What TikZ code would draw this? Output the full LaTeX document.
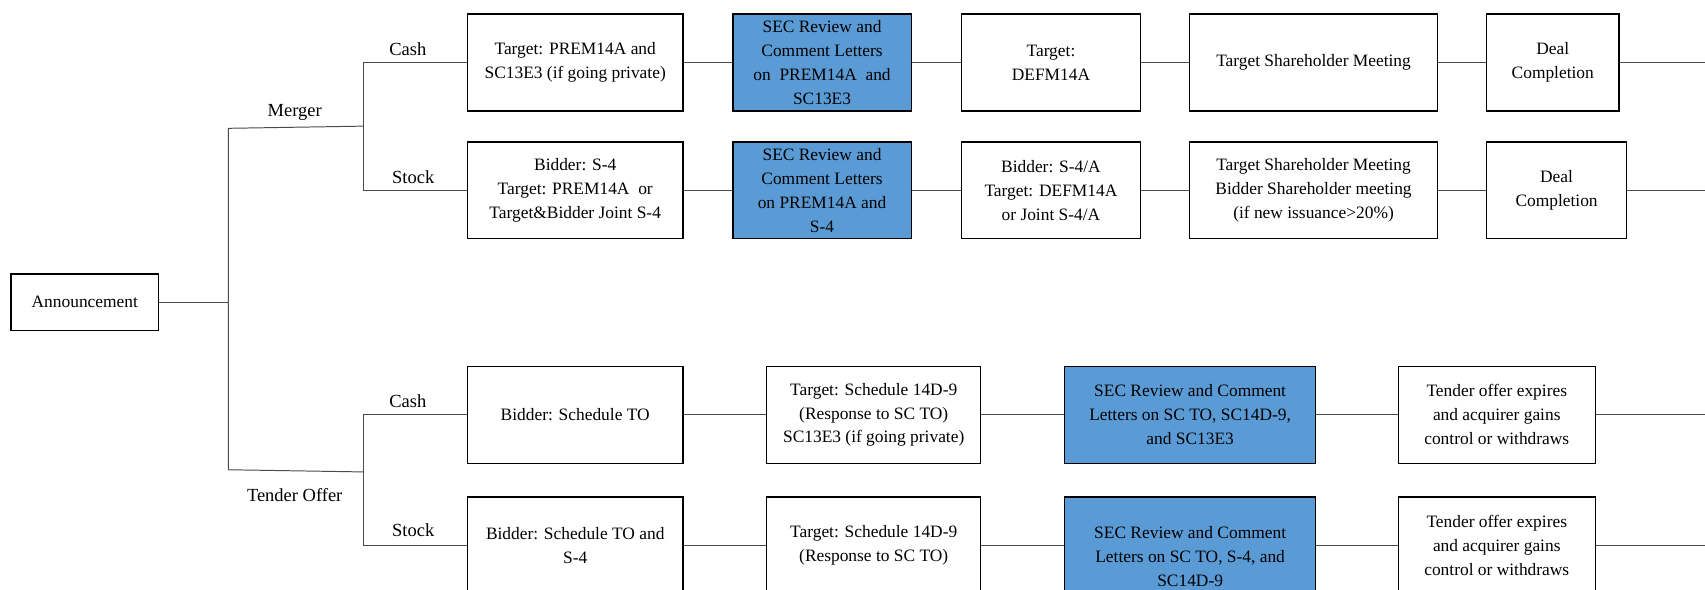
\documentclass[tikz,border=0pt]{standalone}
\usepackage{fontspec}
\setmainfont{Liberation Serif}
\definecolor{secblue}{HTML}{5B9BD5}
\definecolor{linegray}{HTML}{4A4A4A}
\tikzset{
  box/.style={draw=black, line width=1.2pt, fill=white, align=center, inner sep=0pt,
    minimum height=89pt, font=\fontsize{16}{22}\selectfont},
  sec/.style={box, fill=secblue},
  conn/.style={draw=linegray, line width=0.9pt},
  lbl/.style={font=\fontsize{17}{20}\selectfont, inner sep=0pt},
}
\begin{document}
\begin{tikzpicture}[x=1pt,y=-1pt]
\useasboundingbox (0,0) rectangle (1568,542);
\clip (0,0) rectangle (1568,542);
\fill[white] (0,0) rectangle (1568,542);

% junction coordinates
\coordinate (tA) at (210,278);
\coordinate (tM) at (210,118);
\coordinate (tT) at (210,432);
\coordinate (mJ) at (334,116);
\coordinate (tJ) at (334,434);
\coordinate (mC) at (334,57.5);
\coordinate (mS) at (334,175);
\coordinate (tC) at (334,381.5);
\coordinate (tS) at (334,501.5);
\coordinate (a6) at (1568,57.5);
\coordinate (b6) at (1568,175);
\coordinate (c5) at (1568,381.5);
\coordinate (d5) at (1568,501.5);

% connectors (drawn first, under boxes)
\draw[conn] (tA) -- (tM) -- (mJ);
\draw[conn] (tA) -- (tT) -- (tJ);
\draw[conn] (mC) -- (mS);
\draw[conn] (tC) -- (tS);

% nodes
\node[box, minimum width=136pt, minimum height=52pt] (ann) at (78,278) {Announcement};

\node[box, minimum width=198pt] (a1) at (529,57.5) {Target: PREM14A and\\SC13E3 (if going private)};
\node[sec, minimum width=164pt] (a2) at (756,57.5) {SEC Review and\\Comment Letters\\on~ PREM14A~ and\\SC13E3};
\node[box, minimum width=165pt] (a3) at (966.5,57.5) {Target:\\DEFM14A};
\node[box, minimum width=228pt] (a4) at (1208,57.5) {Target Shareholder Meeting};
\node[box, minimum width=122pt] (a5) at (1428,57.5) {Deal\\Completion};

\node[box, minimum width=198pt] (b1) at (529,175) {Bidder: S-4\\Target: PREM14A~ or\\Target\&Bidder Joint S-4};
\node[sec, minimum width=164pt] (b2) at (756,175) {SEC Review and\\Comment Letters\\on PREM14A and\\S-4};
\node[box, minimum width=165pt] (b3) at (966.5,175) {Bidder: S-4/A\\Target: DEFM14A\\or Joint S-4/A};
\node[box, minimum width=228pt] (b4) at (1208,175) {Target Shareholder Meeting\\Bidder Shareholder meeting\\(if new issuance>20\%)};
\node[box, minimum width=129pt] (b5) at (1431.5,175) {Deal\\Completion};

\node[box, minimum width=198pt] (c1) at (529,381.5) {Bidder: Schedule TO};
\node[box, minimum width=197pt] (c2) at (803.5,381.5) {Target: Schedule 14D-9\\(Response to SC TO)\\SC13E3 (if going private)};
\node[sec, minimum width=231pt] (c3) at (1094.5,381.5) {SEC Review and Comment\\Letters on SC TO, SC14D-9,\\and SC13E3};
\node[box, minimum width=181pt] (c4) at (1376.5,381.5) {Tender offer expires\\and acquirer gains\\control or withdraws};

\node[box, minimum width=198pt] (d1) at (529,501.5) {Bidder: Schedule TO and\\S-4};
\node[box, minimum width=197pt] (d2) at (803.5,501.5) {Target: Schedule 14D-9\\(Response to SC TO)};
\node[sec, minimum width=231pt, minimum height=110pt] (d3) at (1094.5,512) {SEC Review and Comment\\Letters on SC TO, S-4, and\\SC14D-9};
\node[box, minimum width=181pt] (d4) at (1376.5,501.5) {Tender offer expires\\and acquirer gains\\control or withdraws};

% connectors between nodes
\draw[conn] (ann.east) -- (tA);
\draw[conn] (mC) -- (a1.west);
\draw[conn] (mS) -- (b1.west);
\draw[conn] (tC) -- (c1.west);
\draw[conn] (tS) -- (d1.west);
\draw[conn] (a1) -- (a2);
\draw[conn] (a2) -- (a3);
\draw[conn] (a3) -- (a4);
\draw[conn] (a4) -- (a5);
\draw[conn] (a5.east) -- (a6);
\draw[conn] (b1) -- (b2);
\draw[conn] (b2) -- (b3);
\draw[conn] (b3) -- (b4);
\draw[conn] (b4) -- (b5);
\draw[conn] (b5.east) -- (b6);
\draw[conn] (c1) -- (c2);
\draw[conn] (c2) -- (c3);
\draw[conn] (c3) -- (c4);
\draw[conn] (c4.east) -- (c5);
\draw[conn] (d1) -- (d2);
\draw[conn] (d2.east) -- (d2.east -| d3.west);
\draw[conn] (d2.east -| d3.east) -- (d4.west);
\draw[conn] (d4.east) -- (d5);

% labels
\node[lbl] (lm) at (271,103) {Merger};
\node[lbl] (lt) at (271,455) {Tender Offer};
\node[lbl] (lc1) at (375,45) {Cash};
\node[lbl] (ls1) at (380,163) {Stock};
\node[lbl] (lc2) at (375,369) {Cash};
\node[lbl] (ls2) at (380,488) {Stock};
\end{tikzpicture}
\end{document}
